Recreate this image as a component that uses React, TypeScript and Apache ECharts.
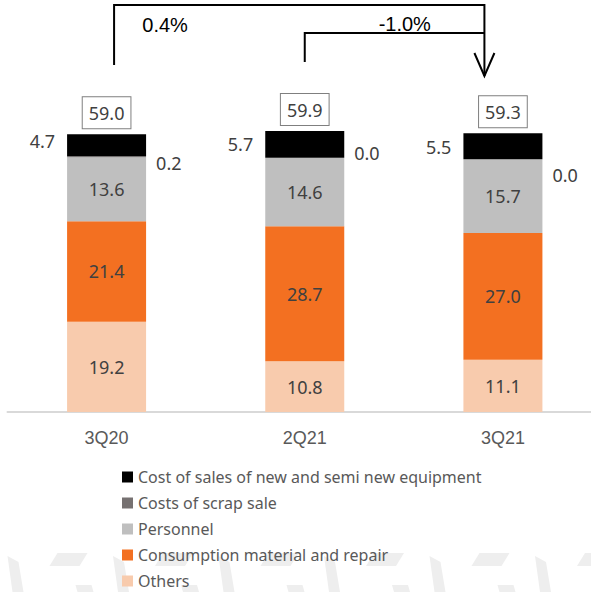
import React, { useEffect, useRef } from 'react';
import * as echarts from 'echarts';

const categories = ['3Q20', '2Q21', '3Q21'];
const others = [19.2, 10.8, 11.1];
const consumption = [21.4, 28.7, 27.0];
const personnel = [13.6, 14.6, 15.7];
const scrap = [0.2, 0.0, 0.0];
const newEquipment = [4.7, 5.7, 5.5];
const totals = [59.0, 59.9, 59.3];
const changeFrom3Q20 = '0.4%';
const changeFrom2Q21 = '-1.0%';

const names = {
  equip: 'Cost of sales of new and semi new equipment',
  scrap: 'Costs of scrap sale',
  personnel: 'Personnel',
  consumption: 'Consumption material and repair',
  others: 'Others',
};

const colors = {
  equip: '#000000',
  scrap: '#767171',
  personnel: '#BFBFBF',
  consumption: '#F37021',
  others: '#F8CBAD',
};

// label nudges (styling, not data)
const equipLabelOffsets = [[0, -4], [0, 0], [0, 1]];
const scrapLabelOffsets = [[0, 6], [0, -5], [0, 16]];

const LABEL_FONT = '"Noto Sans", sans-serif';
const fmt = (p: any) => Number(p.value).toFixed(1);

export default function App() {
  const ref = useRef<HTMLDivElement>(null);
  useEffect(() => {
    if (!ref.current) return;
    const chart = echarts.init(ref.current, null, { renderer: 'svg' });
    const baseLabel = {
      show: true,
      formatter: fmt,
      fontFamily: LABEL_FONT,
      fontSize: 18,
      color: '#404040',
    };
    const option: any = {
      animation: false,
      backgroundColor: '#ffffff',
      grid: { left: 7.5, right: 0, top: 83, bottom: 180 },
      xAxis: {
        type: 'category',
        data: categories,
        axisLine: { show: true, lineStyle: { color: '#d9d9d9', width: 2 } },
        axisTick: { show: false },
        axisLabel: {
          margin: 17,
          fontFamily: '"Liberation Sans", Arial, sans-serif',
          fontSize: 18,
          color: '#595959',
        },
      },
      yAxis: {
        type: 'value',
        min: 0,
        max: 70,
        show: false,
        splitLine: { show: false },
      },
      legend: {
        orient: 'vertical',
        left: 122,
        top: 469,
        height: 200,
        padding: 0,
        itemWidth: 11,
        itemHeight: 11,
        itemGap: 10,
        icon: 'rect',
        data: [names.equip, names.scrap, names.personnel, names.consumption, names.others],
        textStyle: {
          fontFamily: LABEL_FONT,
          fontSize: 16,
          color: '#595959',
        },
        selectedMode: false,
      },
      series: [
        {
          name: names.others,
          type: 'bar',
          stack: 'cost',
          barWidth: 79,
          data: others,
          itemStyle: { color: colors.others },
          label: { ...baseLabel, position: 'inside' },
        },
        {
          name: names.consumption,
          type: 'bar',
          stack: 'cost',
          data: consumption,
          itemStyle: { color: colors.consumption },
          label: { ...baseLabel, position: 'inside' },
        },
        {
          name: names.personnel,
          type: 'bar',
          stack: 'cost',
          data: personnel,
          itemStyle: { color: colors.personnel },
          label: { ...baseLabel, position: 'inside' },
        },
        {
          name: names.scrap,
          type: 'bar',
          stack: 'cost',
          data: scrap.map((v, i) => ({ value: v, label: { offset: scrapLabelOffsets[i] } })),
          itemStyle: { color: colors.scrap },
          label: { ...baseLabel, position: 'right', distance: 10 },
        },
        {
          name: names.equip,
          type: 'bar',
          stack: 'cost',
          data: newEquipment.map((v, i) => ({ value: v, label: { offset: equipLabelOffsets[i] } })),
          itemStyle: { color: colors.equip },
          label: { ...baseLabel, position: 'left', distance: 12 },
        },
        {
          name: 'Total',
          type: 'bar',
          stack: 'cost',
          data: totals.map(() => 0),
          itemStyle: { color: 'transparent' },
          label: {
            show: true,
            position: 'top',
            distance: 6,
            formatter: (p: any) => totals[p.dataIndex].toFixed(1),
            fontFamily: LABEL_FONT,
            fontSize: 18,
            lineHeight: 22,
            color: '#404040',
            borderColor: '#7f7f7f',
            borderWidth: 1,
            padding: [5, 6, 4, 6],
            backgroundColor: '#ffffff',
          },
        },
      ],
    };
    chart.setOption(option);

    const cx = categories.map((c) => chart.convertToPixel({ xAxisIndex: 0 }, c) as number);
    const xStart1 = cx[0] + 7.5;
    const xStart2 = cx[1];
    const xEnd = cx[2] - 18.5;

    const watermark: any[] = [];
    for (let k = 0; k < 6; k++) {
      const x0 = 7.5 + 105.5 * k;
      watermark.push(
        {
          type: 'polygon',
          z: 0,
          silent: true,
          shape: { points: [[x0, 556], [x0 + 11, 562], [x0 + 16, 592], [x0 + 5, 592]] },
          style: { fill: '#eeeeee' },
        },
        {
          type: 'polygon',
          z: 0,
          silent: true,
          shape: { points: [[x0 + 50, 553], [x0 + 80, 553], [x0 + 72, 566], [x0 + 42, 566]] },
          style: { fill: '#eeeeee' },
        },
        {
          type: 'polygon',
          z: 0,
          silent: true,
          shape: { points: [[x0 + 68, 585], [x0 + 84, 585], [x0 + 86, 592], [x0 + 70, 592]] },
          style: { fill: '#eeeeee' },
        }
      );
    }

    const lineStyle = { stroke: '#000000', lineWidth: 2, fill: null };
    chart.setOption({
      graphic: [
        ...watermark,
        {
          type: 'polyline',
          z: 10,
          shape: { points: [[xStart1, 65], [xStart1, 5], [xEnd, 5], [xEnd, 76]] },
          style: lineStyle,
        },
        {
          type: 'polyline',
          z: 10,
          shape: { points: [[xEnd - 10, 53], [xEnd, 76], [xEnd + 10, 53]] },
          style: lineStyle,
        },
        {
          type: 'polyline',
          z: 10,
          shape: { points: [[xStart2, 62], [xStart2, 33], [xEnd, 33]] },
          style: lineStyle,
        },
        {
          type: 'text',
          z: 10,
          x: xStart1 + 51,
          y: 25,
          style: {
            text: changeFrom3Q20,
            fontFamily: '"Liberation Sans", Arial, sans-serif',
            fontSize: 20,
            fill: '#000000',
            align: 'center',
            verticalAlign: 'middle',
          },
        },
        {
          type: 'text',
          z: 10,
          x: xStart2 + 100,
          y: 24,
          style: {
            text: changeFrom2Q21,
            fontFamily: '"Liberation Sans", Arial, sans-serif',
            fontSize: 20,
            fill: '#000000',
            align: 'center',
            verticalAlign: 'middle',
          },
        },
      ],
    });

    return () => chart.dispose();
  }, []);

  return (
    <div
      style={{ position: 'fixed', left: 0, top: 0, width: 591, height: 592, overflow: 'hidden', background: '#fff' }}
    >
      <div ref={ref} style={{ width: 602, height: 592 }} />
    </div>
  );
}
